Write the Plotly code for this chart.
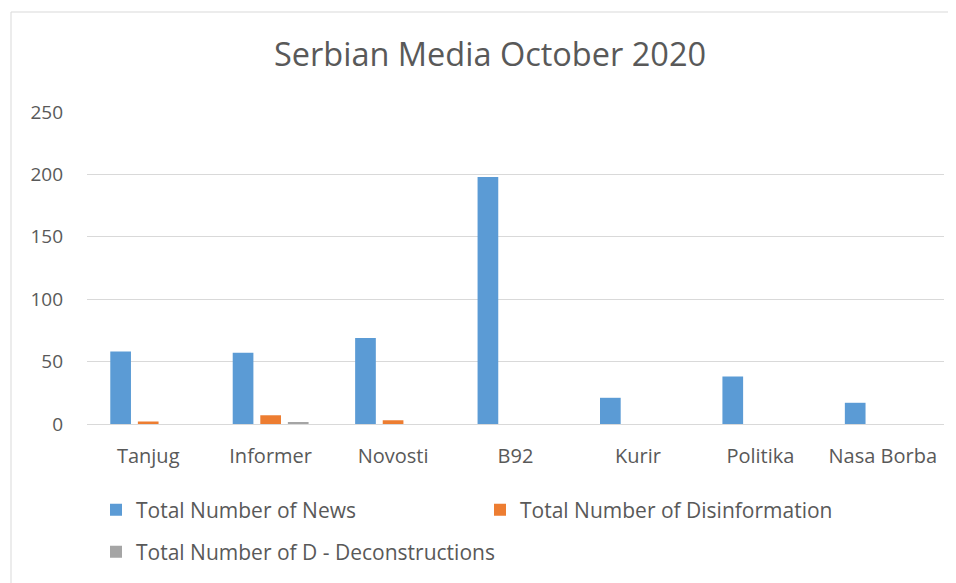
import plotly.graph_objects as go

categories = ["Tanjug", "Informer", "Novosti", "B92", "Kurir", "Politika", "Nasa Borba"]
news = [58, 57, 69, 198, 21, 38, 17]
disinformation = [2, 7, 3, 0, 0, 0, 0]
deconstructions = [0, 1, 0, 0, 0, 0, 0]
series_names = ["Total Number of News", "Total Number of Disinformation", "Total Number of D - Deconstructions"]
colors = ["#5B9BD5", "#ED7D31", "#A5A5A5"]
y_ticks = [0, 50, 100, 150, 200, 250]

# page body has an 8px margin; figure coordinates = screen - 8
W, H = 948, 575
L, R, T, B = 79, 12, 104, 159
PW, PH = W - L - R, H - T - B

font_family = "Open Sans, Liberation Sans, sans-serif"
txt = "#595959"

fig = go.Figure()
for i, (name, vals) in enumerate(zip(series_names, [news, disinformation, deconstructions])):
    fig.add_trace(go.Bar(x=categories, y=vals, name=name, marker_color=colors[i],
                         marker_line_width=0, showlegend=True,
                         legend="legend" if i == 0 else f"legend{i+1}"))

def legend_cfg(xpx, ypx):
    return dict(xref="paper", yref="paper", x=(xpx - L) / PW, y=(H - B - ypx) / PH,
                xanchor="left", yanchor="middle", bgcolor="rgba(0,0,0,0)",
                orientation="v",
                font=dict(family=font_family, size=21, color=txt))

fig.update_layout(
    width=W, height=H,
    margin=dict(l=L, r=R, t=T, b=B, autoexpand=False),
    paper_bgcolor="white", plot_bgcolor="white",
    barmode="group", bargap=0.324, bargroupgap=0.25,
    title=dict(text="Serbian Media October 2020", xref="container", yref="container",
               x=482 / W, y=1 - 47 / H, xanchor="center", yanchor="middle",
               font=dict(family=font_family, size=32.5, color=txt)),
    legend=legend_cfg(88, 502),
    legend2=legend_cfg(472, 502),
    legend3=legend_cfg(88, 544),
    xaxis=dict(showgrid=False, showline=False, ticks="", zeroline=False, tickangle=0,
               automargin=False, ticklabelstandoff=18,
               tickfont=dict(family=font_family, size=20, color=txt)),
    yaxis=dict(range=[0, 250], tickvals=y_ticks, showgrid=True, gridcolor="#D9D9D9",
               gridwidth=1, zeroline=True, zerolinecolor="#D9D9D9", zerolinewidth=1,
               showline=False, ticks="", ticklabelstandoff=23, automargin=False,
               tickfont=dict(family=font_family, size=19, color=txt)),
    shapes=[dict(type="rect", xref="paper", yref="paper",
                 x0=(3 - L) / PW, x1=1.2,
                 y0=-1.0, y1=(H - B - 4) / PH,
                 line=dict(color="#D9D9D9", width=1), fillcolor="rgba(0,0,0,0)", layer="below")],
)

fig.write_html("out.html")
